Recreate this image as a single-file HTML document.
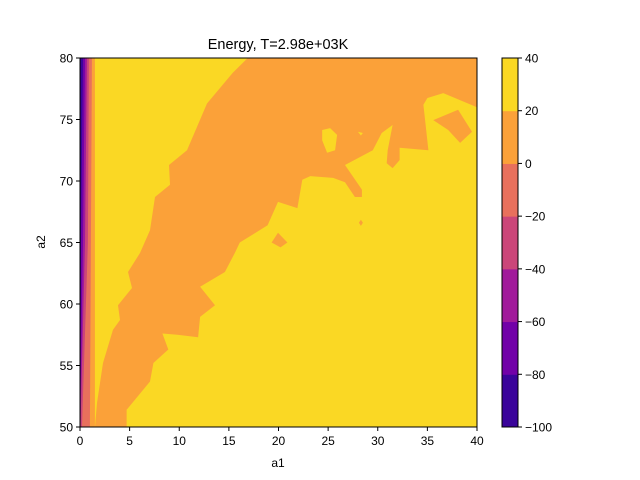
<!DOCTYPE html>
<html><head><meta charset="utf-8">
<style>
html,body{margin:0;padding:0;background:#fff;}
svg{display:block;font-family:"Liberation Sans","DejaVu Sans",sans-serif;}
</style></head>
<body>
<svg id="chart" width="640" height="480" viewBox="0 0 640 480">
<rect width="640" height="480" fill="#fff"/>
<g id="plot"></g>
<g id="axes"></g>
<g id="cbar"></g>
<text x="278" y="49" text-anchor="middle" font-size="14.5">Energy, T=2.98e+03K</text>
<text x="278" y="467" text-anchor="middle" font-size="12">a1</text>
<text x="0" y="0" transform="translate(45,242) rotate(-90)" text-anchor="middle" font-size="12">a2</text>
</svg>
<script>
const levels = [-100,-80,-60,-40,-20,0,20,40];
const levelColors = ["#3a049a","#7201a8","#a11b9b","#cb4679","#e8705c","#fba139","#fad824"];
const xTicks = [0,5,10,15,20,25,30,35,40];
const yTicks = [50,55,60,65,70,75,80];
// left stripe boundaries (a1 values) at a2 = 80, 65, 50
const stripeA2 = [80,65,50];
const stripeB1 = [0.3,0.1,0];
const stripeB2 = [0.5,0.3,0];
const stripeB3 = [0.7,0.5,0.05];
const stripeB4 = [0.9,0.8,0.2];
const stripeB5 = [1.2,1.1,1.0];
const stripeB6 = [1.5,1.5,1.5];
// main orange (0..20) region
const orangeA1 = [1.51,1.71,2.32,3.32,4.03,3.83,5.24,4.84,6.05,7.05,7.56,9.07,8.97,10.78,12.8,15.4,16.9,40,40,36.6,35.0,34.6,35.1,32.2,32.2,31.5,30.9,31.0,31.5,30.4,29.5,26.7,28.4,28.4,27.7,26.7,25.5,23.2,22.4,21.9,19.95,18.9,16.1,15.6,14.6,12.1,13.6,12.1,11.9,9.8,8.3,8.9,7.4,7.05,4.7,4.7];
const orangeA2 = [50,51.95,55.2,57.9,58.7,59.9,61.3,62.6,64.15,66.0,68.7,69.7,71.3,72.5,76.3,78.8,80,80,76.0,77.15,76.75,76.2,72.5,72.7,71.7,71.05,71.45,72.5,74.55,73.9,72.5,71.3,69.3,68.7,68.7,69.9,70.25,70.4,70.1,67.8,68.3,66.4,65.0,64.15,62.6,61.4,59.9,58.95,57.3,57.5,57.6,56.3,55.2,53.7,51.4,50];
const holeA1 = [24.4,25.2,25.9,25.7,24.9,24.4];
const holeA2 = [74.15,74.3,73.75,72.5,72.3,73.3];
const hole2A1 = [28.0,28.5,28.3];
const hole2A2 = [74.0,73.9,73.7];
const island1A1 = [35.6,38.1,39.5,38.3,37.1];
const island1A2 = [74.95,75.8,74.0,73.1,74.15];
const island2A1 = [19.3,19.95,20.9,20.2];
const island2A2 = [65.0,65.8,65.0,64.6];
const island3A1 = [28.1,28.3,28.5,28.3];
const island3A2 = [66.6,66.85,66.6,66.35];

const X0=80,X1=477,Y0=427,Y1=58;
function sx(v){return X0+(v-0)/(40-0)*(X1-X0);}
function sy(v){return Y0-(v-50)/(80-50)*(Y0-Y1);}
const NS="http://www.w3.org/2000/svg";
function mk(tag,attrs,parent){const e=document.createElementNS(NS,tag);for(const k in attrs)e.setAttribute(k,attrs[k]);parent.appendChild(e);return e;}
const plot=document.getElementById('plot');
const axes=document.getElementById('axes');
const cbar=document.getElementById('cbar');

let bg=mk('rect',{x:X0,y:Y1,width:X1-X0,height:Y0-Y1,fill:levelColors[6]},plot);



function polyFrom(a1s,a2s,color,name){
  const pts=a1s.map((v,i)=>sx(v).toFixed(1)+','+sy(a2s[i]).toFixed(1)).join(' ');
  const p=mk('polygon',{points:pts,fill:color},plot);
  
  
}
polyFrom(orangeA1,orangeA2,levelColors[5],'contour-band-0-20');
polyFrom(holeA1,holeA2,levelColors[6],'contour-hole');
polyFrom(hole2A1,hole2A2,levelColors[6],'contour-hole-small');
polyFrom(island1A1,island1A2,levelColors[5],'contour-island');
polyFrom(island2A1,island2A2,levelColors[5],'contour-island');
polyFrom(island3A1,island3A2,levelColors[5],'contour-island');

const stripes=[stripeB6,stripeB5,stripeB4,stripeB3,stripeB2,stripeB1];
const stripeColors=[levelColors[5],levelColors[4],levelColors[3],levelColors[2],levelColors[1],levelColors[0]];
stripes.forEach((b,k)=>{
  const a1s=[0].concat(b).concat([0]);
  const a2s=[80].concat(stripeA2).concat([50]);
  polyFrom(a1s,a2s,stripeColors[k],'contour-edge-band');
});

// frame
let fr=mk('rect',{x:X0,y:Y1,width:X1-X0,height:Y0-Y1,fill:'none',stroke:'#000','stroke-width':1},axes);


xTicks.forEach(t=>{
  const x=sx(t);
  let l=mk('line',{x1:x,y1:Y0,x2:x,y2:Y0+4,stroke:'#000'},axes);
  
  
  let tx=mk('text',{x:x,y:Y0+18,'text-anchor':'middle','font-size':12},axes);
  tx.textContent=t;
  
  
});
yTicks.forEach(t=>{
  const y=sy(t);
  let l=mk('line',{x1:X0-4,y1:y,x2:X0,y2:y,stroke:'#000'},axes);
  
  
  let tx=mk('text',{x:X0-7,y:y+4.5,'text-anchor':'end','font-size':12},axes);
  tx.textContent=t;
  
  
});

// colorbar
const CX=502,CW=16;
function cy(v){return Y0-(v-levels[0])/(levels[levels.length-1]-levels[0])*(Y0-Y1);}
levelColors.forEach((c,i)=>{
  const y1=cy(levels[i+1]),y2=cy(levels[i]);
  let r=mk('rect',{x:CX,y:y1,width:CW,height:y2-y1+0.5,fill:c},cbar);
  
  
});
let cf=mk('rect',{x:CX,y:Y1,width:CW,height:Y0-Y1,fill:'none',stroke:'#000'},cbar);


levels.forEach(v=>{
  const y=cy(v);
  let l=mk('line',{x1:CX+CW,y1:y,x2:CX+CW+4,y2:y,stroke:'#000'},cbar);
  
  
  let tx=mk('text',{x:CX+CW+7,y:y+4.5,'font-size':12},cbar);
  tx.textContent=(v<0?'\u2212'+(-v):String(v));
  
  
});
</script>
</body></html>
